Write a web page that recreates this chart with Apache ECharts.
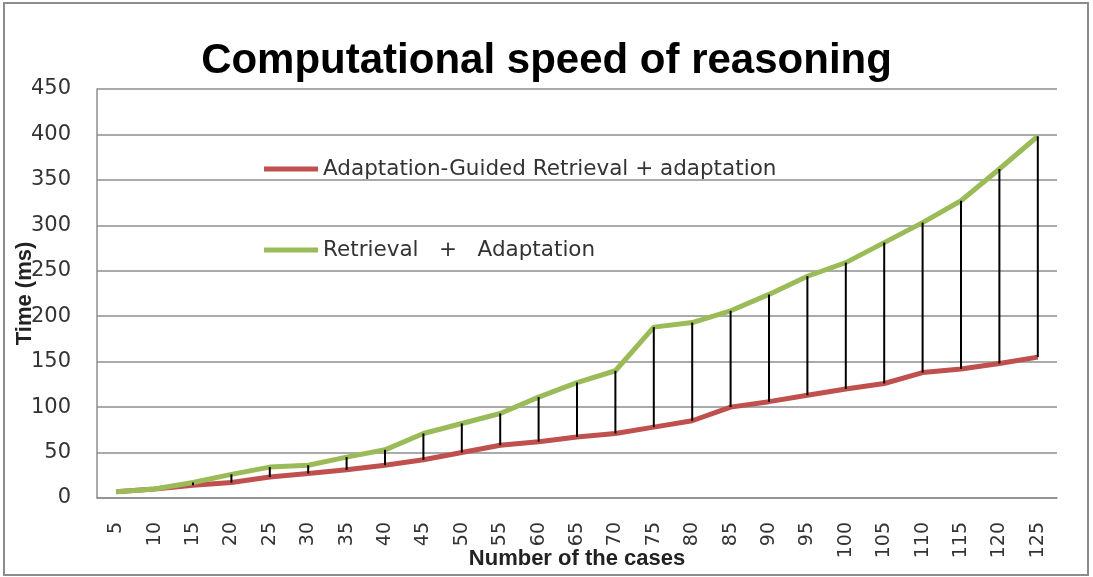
<!DOCTYPE html>
<html>
<head>
<meta charset="utf-8">
<script src="https://cdn.jsdelivr.net/npm/echarts@6/dist/echarts.min.js"></script>
<style>
html,body{margin:0;padding:0;background:#fff;}
#c{width:1093px;height:577px;}
</style>
</head>
<body>
<div id="c"></div>
<script>
// ---- data ----
const categories = ['5','10','15','20','25','30','35','40','45','50','55','60','65','70','75','80','85','90','95','100','105','110','115','120','125'];
const guidedValues = [7,10,14,17,23,27,31,36,42,50,58,62,67,71,78,85,100,106,113,120,126,138,142,148,155];
const retrievalValues = [7,10,17,26,34,36,45,53,71,82,93,111,127,140,188,193,206,224,244,259,281,303,327,362,398];
const seriesNames = ['Adaptation-Guided Retrieval + adaptation', 'Retrieval   +   Adaptation'];
const yTicks = {min: 0, max: 450, interval: 50};
const titleText = 'Computational speed of reasoning';
const xName = 'Number of the cases';
const yName = 'Time (ms)';

const dropData = categories.map((c, i) => [i, guidedValues[i], retrievalValues[i]]);

const chart = echarts.init(document.getElementById('c'), null, {renderer: 'canvas'});
const labelFont = 'DejaVu Sans';
const nameFont = 'Liberation Sans';
const gridColor = '#8e8e8e';

chart.setOption({
  animation: false,
  backgroundColor: '#ffffff',
  title: {
    text: titleText,
    left: 'center',
    top: 35,
    textStyle: {fontFamily: nameFont, fontWeight: 'bold', fontSize: 42, color: '#000'}
  },
  graphic: [{
    type: 'rect',
    shape: {x: 4, y: 3, width: 1084, height: 572},
    style: {fill: 'none', stroke: '#8c8c8c', lineWidth: 2},
    silent: true, z: 0
  }],
  legend: [{
    data: [seriesNames[0]],
    orient: 'vertical',
    left: 259, top: 152,
    icon: 'rect', itemWidth: 54, itemHeight: 5, itemGap: 0,
    textStyle: {fontFamily: labelFont, fontSize: 21.5, color: '#333', lineHeight: 24}
  }, {
    data: [seriesNames[1]],
    orient: 'vertical',
    left: 259, top: 233,
    icon: 'rect', itemWidth: 54, itemHeight: 5, itemGap: 0,
    textStyle: {fontFamily: labelFont, fontSize: 21.5, color: '#333', lineHeight: 24}
  }],
  grid: {left: 97, right: 36, top: 89, bottom: 79, containLabel: false, outerBoundsMode: 'none'},
  xAxis: {
    type: 'category',
    data: categories,
    boundaryGap: true,
    name: xName,
    nameLocation: 'middle',
    nameGap: 50,
    nameMoveOverlap: false,
    nameTextStyle: {fontFamily: nameFont, fontWeight: 'bold', fontSize: 22, color: '#222'},
    axisLine: {show: true, lineStyle: {color: gridColor, width: 1.5}},
    axisTick: {show: false},
    axisLabel: {rotate: 90, margin: 24, interval: 0, fontFamily: labelFont, fontSize: 19, color: '#333'},
    splitLine: {show: false}
  },
  yAxis: {
    type: 'value',
    min: yTicks.min, max: yTicks.max, interval: yTicks.interval,
    name: yName,
    nameLocation: 'middle',
    nameGap: 61,
    nameMoveOverlap: false,
    nameTextStyle: {fontFamily: nameFont, fontWeight: 'bold', fontSize: 22, color: '#222'},
    axisLine: {show: true, lineStyle: {color: gridColor, width: 1.5}},
    axisTick: {show: false},
    axisLabel: {margin: 26, fontFamily: labelFont, fontSize: 21, color: '#333'},
    splitLine: {show: true, lineStyle: {color: gridColor, width: 1.5}}
  },
  series: [{
    name: seriesNames[0],
    type: 'line',
    data: guidedValues,
    symbol: 'none',
    lineStyle: {color: '#c0504d', width: 5},
    itemStyle: {color: '#c0504d'},
    z: 2
  }, {
    name: seriesNames[1],
    type: 'line',
    data: retrievalValues,
    symbol: 'none',
    lineStyle: {color: '#9bbb59', width: 5},
    itemStyle: {color: '#9bbb59'},
    z: 3
  }, {
    type: 'custom',
    data: dropData,
    encode: {x: 0, y: [1, 2]},
    z: 4,
    silent: true,
    renderItem: function (params, api) {
      const p1 = api.coord([api.value(0), api.value(1)]);
      const p2 = api.coord([api.value(0), api.value(2)]);
      return {
        type: 'line',
        shape: {x1: p1[0], y1: p1[1], x2: p2[0], y2: p2[1]},
        style: {stroke: '#000', lineWidth: 2}
      };
    }
  }]
});
</script>
</body>
</html>
